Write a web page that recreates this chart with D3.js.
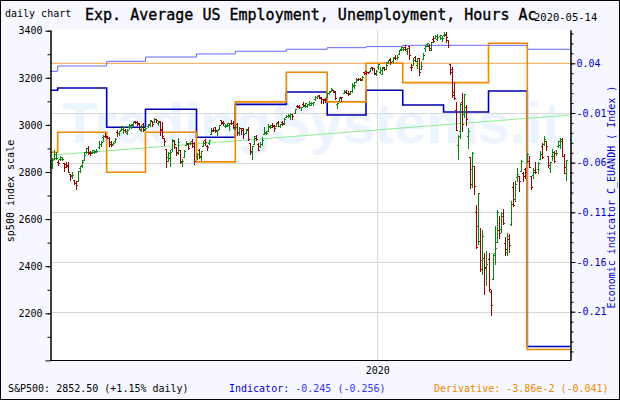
<!DOCTYPE html>
<html><head><meta charset="utf-8">
<script src="https://cdn.jsdelivr.net/npm/d3@7"></script>
<style>body{margin:0;background:#fff}svg{display:block}</style>
</head><body><svg id="c" width="620" height="400"></svg>
<script>
// ---- S&P500 daily bars [open, high, low, close], 2019-05-14 .. 2020-05-14 ----
const bars2019May = [[2820,2852,2820,2834],[2820,2858,2816,2851],[2855,2892,2855,2876],[2858,2885,2854,2860],[2841,2853,2831,2840],[2855,2868,2851,2864],[2856,2865,2852,2856],[2837,2837,2806,2822],[2832,2841,2821,2826],[2831,2841,2801,2802],[2790,2792,2766,2783],[2786,2800,2776,2789],[2766,2768,2750,2752]];
const bars2019Jun = [[2752,2763,2729,2744],[2762,2805,2762,2803],[2818,2827,2801,2826],[2828,2853,2822,2843],[2852,2885,2852,2873],[2886,2904,2880,2887],[2903,2910,2878,2886],[2882,2888,2874,2880],[2887,2895,2882,2892],[2886,2894,2879,2887],[2889,2898,2887,2890],[2906,2930,2904,2918],[2920,2932,2911,2926],[2950,2958,2933,2954],[2952,2965,2947,2950],[2951,2955,2944,2945],[2945,2947,2911,2917],[2926,2932,2912,2914],[2919,2929,2918,2925],[2933,2943,2929,2942]];
const bars2019Jul = [[2971,2977,2952,2964],[2965,2973,2959,2973],[2978,2996,2978,2996],[2984,2994,2967,2990],[2979,2981,2970,2976],[2966,2981,2963,2980],[2989,3002,2984,2993],[2999,3002,2988,3000],[3003,3014,3001,3014],[3017,3018,3010,3014],[3011,3016,3000,3004],[3006,3006,2984,2984],[2979,2999,2974,2995],[3005,3006,2976,2977],[2982,2990,2977,2985],[2994,3005,2989,3005],[2998,3020,2997,3020],[3016,3017,2997,3004],[3013,3028,3013,3026],[3024,3025,3014,3021],[3007,3017,3000,3013],[3017,3017,2958,2980]];
const bars2019Aug = [[2981,3013,2946,2954],[2943,2945,2914,2932],[2898,2898,2822,2845],[2862,2884,2847,2882],[2858,2892,2826,2884],[2897,2939,2891,2938],[2930,2935,2901,2919],[2908,2908,2874,2883],[2880,2943,2878,2926],[2894,2894,2839,2841],[2847,2857,2825,2848],[2865,2893,2865,2889],[2913,2931,2913,2924],[2920,2924,2899,2901],[2922,2928,2917,2924],[2931,2939,2905,2923],[2912,2928,2834,2847],[2866,2879,2856,2878],[2893,2899,2860,2869],[2862,2891,2853,2888],[2910,2930,2910,2925],[2938,2940,2914,2926]];
const bars2019Sep = [[2909,2914,2892,2906],[2924,2938,2921,2938],[2960,2985,2960,2976],[2980,2985,2973,2979],[2989,2989,2969,2978],[2972,2979,2958,2979],[2981,3001,2981,3001],[3019,3021,3004,3010],[3013,3018,3001,3007],[2997,3003,2991,2998],[2996,3006,2994,3006],[3001,3008,2978,3007],[3010,3022,3003,3007],[3009,3016,2985,2992],[2984,2999,2983,2992],[3002,3007,2958,2967],[2969,2989,2957,2985],[2985,2987,2963,2978],[2985,2987,2945,2962],[2967,2984,2967,2977]];
const bars2019Oct = [[2983,2993,2938,2940],[2924,2925,2875,2888],[2885,2911,2855,2911],[2918,2953,2918,2952],[2945,2959,2936,2939],[2921,2925,2892,2893],[2912,2929,2908,2919],[2919,2948,2913,2938],[2963,2993,2963,2970],[2966,2972,2960,2966],[2973,3003,2973,2996],[2990,2998,2986,2990],[3000,3008,2992,2998],[2996,3000,2976,2986],[2997,3008,2995,3007],[3011,3015,2996,2996],[2994,3005,2992,3005],[3014,3016,3000,3010],[3004,3028,3002,3023],[3033,3044,3033,3039],[3036,3047,3032,3037],[3040,3050,3026,3047],[3046,3046,3023,3038]];
const bars2019Nov = [[3051,3067,3051,3067],[3079,3084,3075,3078],[3080,3084,3072,3075],[3075,3078,3065,3077],[3088,3097,3080,3085],[3082,3094,3075,3093],[3080,3088,3076,3087],[3089,3103,3085,3092],[3084,3099,3083,3094],[3091,3098,3083,3097],[3108,3121,3104,3120],[3118,3124,3113,3122],[3128,3128,3113,3120],[3115,3119,3091,3108],[3108,3110,3095,3104],[3112,3113,3097,3110],[3118,3134,3118,3134],[3135,3142,3131,3141],[3145,3155,3143,3154],[3148,3150,3139,3141]];
const bars2019Dec = [[3143,3144,3110,3114],[3087,3094,3070,3093],[3103,3120,3103,3113],[3119,3120,3103,3117],[3134,3150,3134,3146],[3141,3149,3135,3136],[3135,3143,3125,3133],[3136,3143,3133,3142],[3142,3176,3138,3169],[3167,3183,3158,3169],[3183,3198,3183,3191],[3195,3198,3191,3193],[3196,3199,3191,3191],[3193,3206,3192,3205],[3223,3226,3216,3221],[3227,3227,3218,3224],[3225,3226,3220,3223],[3227,3240,3227,3240],[3247,3248,3235,3240],[3240,3240,3217,3221],[3216,3232,3213,3231]];
const bars2020Jan = [[3245,3258,3236,3258],[3226,3246,3222,3235],[3218,3247,3215,3246],[3242,3245,3232,3237],[3238,3268,3236,3253],[3267,3275,3264,3275],[3281,3283,3260,3265],[3271,3288,3268,3288],[3285,3295,3278,3283],[3283,3298,3280,3289],[3303,3317,3303,3317],[3323,3330,3318,3330],[3321,3329,3316,3321],[3330,3338,3319,3322],[3315,3327,3302,3326],[3334,3334,3281,3295],[3248,3259,3234,3244],[3255,3285,3255,3276],[3289,3293,3272,3273],[3256,3286,3243,3284],[3282,3282,3214,3226]];
const bars2020Feb = [[3236,3268,3236,3249],[3281,3306,3281,3298],[3325,3338,3313,3335],[3344,3348,3333,3346],[3335,3342,3319,3328],[3318,3352,3317,3352],[3365,3376,3352,3358],[3370,3381,3369,3379],[3365,3385,3361,3374],[3379,3381,3366,3380],[3370,3376,3356,3370],[3380,3394,3379,3386],[3380,3393,3354,3373],[3361,3361,3329,3338],[3258,3259,3215,3226],[3238,3247,3118,3128],[3140,3183,3109,3116],[3063,3098,2977,2979],[2916,2959,2855,2954]];
const bars2020Mar = [[2975,3091,2946,3090],[3096,3137,2976,3003],[3046,3131,3035,3130],[3075,3084,2999,3024],[2954,2985,2901,2972],[2864,2864,2734,2747],[2814,2883,2735,2882],[2825,2825,2707,2741],[2631,2661,2479,2481],[2569,2711,2493,2711],[2509,2563,2380,2386],[2426,2553,2367,2529],[2436,2454,2281,2398],[2394,2466,2319,2409],[2431,2454,2296,2305],[2291,2301,2192,2237],[2345,2450,2345,2447],[2458,2572,2408,2476],[2502,2637,2501,2630],[2555,2615,2520,2541],[2558,2632,2545,2627],[2614,2641,2580,2585]];
const bars2020Apr = [[2499,2523,2448,2471],[2459,2539,2446,2527],[2515,2538,2459,2489],[2578,2676,2575,2664],[2738,2757,2657,2659],[2686,2761,2676,2750],[2777,2819,2763,2790],[2783,2783,2721,2762],[2805,2852,2805,2846],[2796,2802,2761,2783],[2812,2815,2776,2800],[2843,2880,2843,2875],[2846,2869,2821,2823],[2785,2785,2727,2737],[2788,2815,2776,2799],[2810,2844,2794,2798],[2813,2842,2794,2837],[2855,2888,2855,2878],[2909,2922,2860,2863],[2919,2954,2913,2940],[2930,2931,2892,2912]];
const bars2020May = [[2869,2869,2821,2831],[2815,2844,2798,2843],[2868,2898,2853,2868],[2884,2891,2844,2848],[2879,2892,2871,2881],[2909,2933,2908,2930],[2915,2945,2904,2930],[2939,2945,2869,2870],[2866,2875,2794,2820],[2795,2852,2766,2852]];
const sp500 = [].concat(bars2019May,bars2019Jun,bars2019Jul,bars2019Aug,bars2019Sep,bars2019Oct,bars2019Nov,bars2019Dec,bars2020Jan,bars2020Feb,bars2020Mar,bars2020Apr,bars2020May);

// ---- indicator step series: [trading-day index, value] ----
const indicatorSteps = [[0,0.0128],[4,0.0151],[28,-0.0244],[47,-0.0063],[72,-0.0345],[91,-0.0013],[116,0.0111],[136,-0.0120],[155,0.0128],[173,-0.0020],[193,-0.0090],[215,0.0121],[234,-0.245]];
const derivativeSteps = [[0,-0.0120],[4,-0.0093],[28,-0.0147],[47,-0.0093],[72,-0.0133],[91,-0.0052],[116,-0.0012],[136,-0.0052],[155,0.0000],[173,-0.0026],[215,0.0027],[234,-0.0386]];
const rawIndexSteps = [[0,0.0319],[4,0.0373],[28,0.0420],[47,0.0463],[72,0.0494],[91,0.0521],[116,0.0541],[136,0.0557],[155,0.0568],[173,0.0581],[234,0.0541]];
const trendLine = [[0,2871],[255,3042]];
const derivativeZero = 0;

// ---- axes / labels ----
const leftMajorTicks = [2000,2200,2400,2600,2800,3000,3200,3400];
const leftMinorTicks = d3.range(2100,3401,100);
const rightMajorTicks = [0.04,-0.01,-0.06,-0.11,-0.16,-0.21];
const rightMinorTicks = d3.range(-25,8).map(d=>d/100);
const yearTicks = [{day:161,label:"2020"}];
const titleText = "Exp. Average US Employment, Unemployment, Hours Ac";
const dateText = "2020-05-14";
const footerSp = "S&P500: 2852.50 (+1.15% daily)";
const footerInd = ["Indicator:"," -0.245 (-0.256)"];
const footerDer = "Derivative: -3.86e-2 (-0.041)";

const MONO = "'DejaVu Sans Mono', monospace";
const W=620,H=400,L=50,R=570,T=30,B=360;
const svg = d3.select("#c");

const x  = d3.scaleLinear().domain([0,253]).range([49.5,566.1]);
const yL = d3.scaleLinear().domain([2001.7,3403]).range([B,T]);
const yR = d3.scaleLinear().domain([-0.2586,0.0735]).range([B,T]);
const yD = d3.scaleLinear().domain([-0.0386,0]).range([349.5,63.3]);

svg.append("rect").attr("width",W).attr("height",H).attr("fill","#f7f7ff");
svg.append("rect").attr("x",L).attr("y",T).attr("width",R-L).attr("height",B-T).attr("fill","#fff");
svg.append("defs").append("clipPath").attr("id","clip").append("rect").attr("x",L).attr("y",T).attr("width",R-L).attr("height",B-T);

const plot = svg.append("g").attr("clip-path","url(#clip)");
plot.append("text").attr("x",62).attr("y",143).attr("font-family","'Liberation Sans',Arial,sans-serif")
  .attr("font-weight","bold").attr("font-size",58).attr("fill","#ecf4ff").text("TradingSystems.it");

// gridlines
plot.selectAll(".hg").data(rightMajorTicks).join("line").attr("x1",L).attr("x2",R)
  .attr("y1",d=>Math.round(yR(d))+0.5).attr("y2",d=>Math.round(yR(d))+0.5).attr("stroke","#d8d8d8");
plot.selectAll(".vg").data(yearTicks).join("line").attr("y1",T).attr("y2",B)
  .attr("x1",d=>Math.round(x(d.day-0.5))+0.5).attr("x2",d=>Math.round(x(d.day-0.5))+0.5).attr("stroke","#d8d8d8");

const xEnd = x.invert(R+2);
function stepPts(steps){ return steps.concat([[xEnd, steps[steps.length-1][1]]]); }
const stepLine = (ys)=> d3.line().x(d=>x(d[0])).y(d=>ys(d[1])).curve(d3.curveStepAfter);

// derivative zero line
plot.append("line").attr("x1",L).attr("x2",R).attr("y1",yD(derivativeZero)).attr("y2",yD(derivativeZero)).attr("stroke","#ffb050").attr("stroke-width",1);
// trend
plot.append("path").attr("d",d3.line().x(d=>x(d[0])).y(d=>yL(d[1]))(trendLine)).attr("fill","none").attr("stroke","#90ee90").attr("stroke-width",1);
// raw index
plot.append("path").attr("d",stepLine(yR)(stepPts(rawIndexSteps))).attr("fill","none").attr("stroke","#6666ff").attr("stroke-width",1);
// indicator
plot.append("path").attr("d",stepLine(yR)(stepPts(indicatorSteps))).attr("fill","none").attr("stroke","#0000b0").attr("stroke-width",1.6);
// derivative
plot.append("path").attr("d",stepLine(yD)(stepPts(derivativeSteps))).attr("fill","none").attr("stroke","#f08800").attr("stroke-width",1.6);

// OHLC bars
const bg = plot.append("g").attr("shape-rendering","crispEdges");
const bar = bg.selectAll("g").data(sp500).join("g").attr("stroke",d=>d[3]>=d[0]?"#0a870a":"#990000");
const cx = (d,i)=>Math.round(x(i))+0.5;
bar.append("line").attr("x1",cx).attr("x2",cx).attr("y1",d=>yL(d[1])).attr("y2",d=>yL(d[2])+1);
bar.append("line").attr("x1",(d,i)=>cx(d,i)-1.5).attr("x2",cx).attr("y1",d=>Math.round(yL(d[0]))+0.5).attr("y2",d=>Math.round(yL(d[0]))+0.5);
bar.append("line").attr("x1",cx).attr("x2",(d,i)=>cx(d,i)+1.5).attr("y1",d=>Math.round(yL(d[3]))+0.5).attr("y2",d=>Math.round(yL(d[3]))+0.5);

// axes
function style(g,color){ g.attr("font-family",MONO).attr("font-size",10); g.selectAll("text").attr("fill",color); g.selectAll("line,path").attr("stroke","#000"); }
svg.append("g").attr("transform",`translate(${L+0.5},0)`).call(d3.axisLeft(yL).tickValues(leftMinorTicks).tickSize(3).tickFormat("").tickSizeOuter(0)).call(g=>style(g,"#000"));
svg.append("g").attr("transform",`translate(${L+0.5},0)`).call(d3.axisLeft(yL).tickValues(leftMajorTicks).tickSize(5).tickPadding(3).tickSizeOuter(0).tickFormat(d=>d===2000?"":d)).call(g=>style(g,"#000"));
svg.append("g").attr("transform",`translate(${R+0.5},0)`).call(d3.axisRight(yR).tickValues(rightMinorTicks).tickSize(3).tickFormat("").tickSizeOuter(0)).call(g=>style(g,"#00c"));
svg.append("g").attr("transform",`translate(${R+0.5},0)`).call(d3.axisRight(yR).tickValues(rightMajorTicks).tickSize(5).tickPadding(1).tickSizeOuter(0).tickFormat(d=>d3.format(".2f")(d).replace("\u2212","-"))).call(g=>style(g,"#0000cc"));
const xa = svg.append("g").attr("transform",`translate(0,${B+0.5})`).call(d3.axisBottom(x).tickValues(yearTicks.map(d=>d.day-0.5)).tickSize(0).tickPadding(6).tickFormat((d,i)=>yearTicks[i].label)).call(g=>style(g,"#000"));
xa.select(".domain").attr("d",`M${L},0H${R+1}`);

// axis titles
svg.append("text").attr("transform","translate(14,191) rotate(-90)").attr("text-anchor","middle").attr("font-family",MONO).attr("font-size",10).attr("fill","#000").text("sp500 index scale");
svg.append("text").attr("transform","translate(615,197) rotate(-90)").attr("text-anchor","middle").attr("font-family",MONO).attr("font-size",10).attr("fill","#0000cc").text("Economic indicator C_EUANDH ( Index )");

// titles
svg.append("text").attr("x",5).attr("y",17).attr("font-family",MONO).attr("font-size",10).attr("fill","#000").text("daily chart");
svg.append("text").attr("x",85).attr("y",20).attr("font-family",MONO).attr("font-size",15).attr("fill","#000").attr("stroke","#000").attr("stroke-width",0.35).text(titleText);
svg.append("text").attr("x",534).attr("y",21).attr("font-family",MONO).attr("font-size",10.5).attr("fill","#000").text(dateText);

// footer
svg.append("text").attr("x",8).attr("y",392).attr("font-family",MONO).attr("font-size",10).attr("fill","#000").text(footerSp);
const fi = svg.append("text").attr("x",229).attr("y",392).attr("font-family",MONO).attr("font-size",10);
fi.append("tspan").attr("fill","#0000cc").text(footerInd[0]);
fi.append("tspan").attr("fill","#3333ff").text(footerInd[1]);
svg.append("text").attr("x",434).attr("y",392).attr("font-family",MONO).attr("font-size",10).attr("fill","#ee8800").text(footerDer);

svg.append("rect").attr("x",0.5).attr("y",0.5).attr("width",W-1).attr("height",H-1).attr("fill","none").attr("stroke","#000");
</script></body></html>
